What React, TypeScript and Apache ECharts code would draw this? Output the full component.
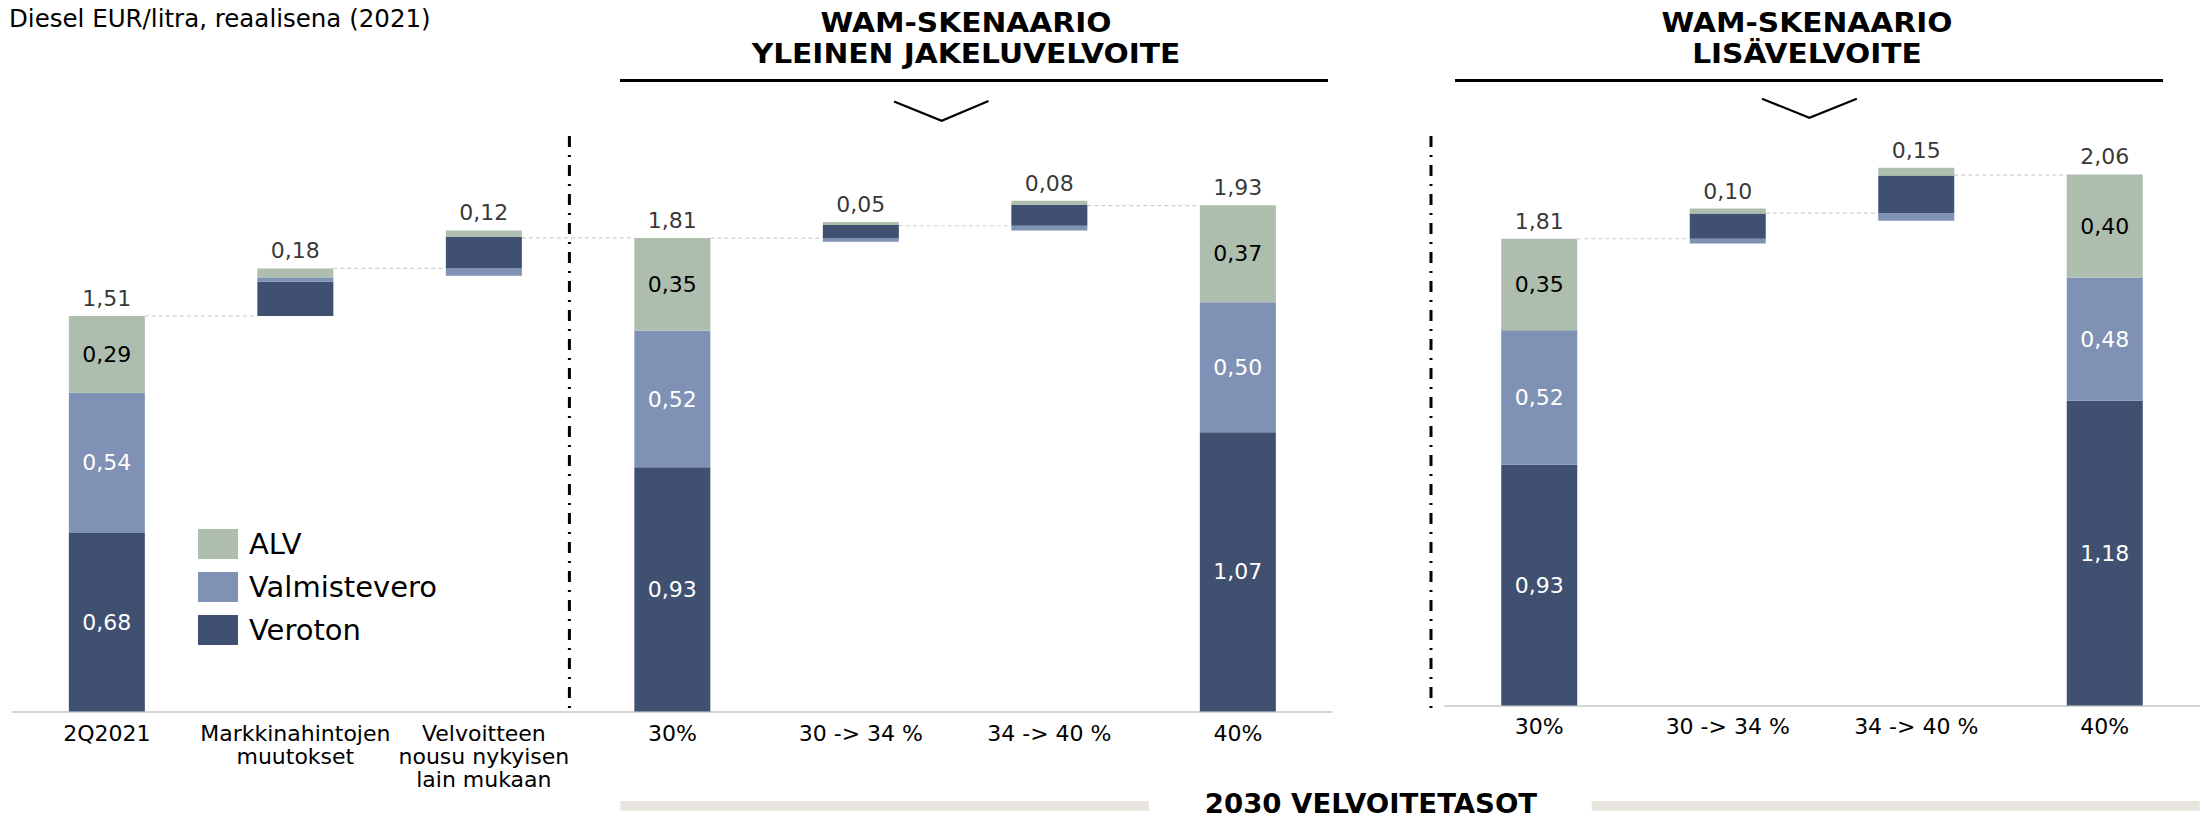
import React, { useEffect, useRef } from "react";
import * as echarts from "echarts";

// ---------- data ----------
const CATS_A = [
  "2Q2021",
  "Markkinahintojen\nmuutokset",
  "Velvoitteen\nnousu nykyisen\nlain mukaan",
  "30%",
  "30 -> 34 %",
  "34 -> 40 %",
  "40%",
];
const IS_TOTAL_A = [true, false, false, true, false, false, true];
const VEROTON_A = [0.681, 0.13, 0.12, 0.932, 0.05, 0.079, 1.066];
const VALM_A = [0.536, 0.015, -0.028, 0.521, -0.014, -0.018, 0.496];
const ALV_A = [0.293, 0.036, 0.025, 0.354, 0.011, 0.016, 0.37];

const CATS_B = ["30%", "30 -> 34 %", "34 -> 40 %", "40%"];
const IS_TOTAL_B = [true, false, false, true];
const VEROTON_B = [0.932, 0.098, 0.146, 1.18];
const VALM_B = [0.521, -0.018, -0.029, 0.476];
const ALV_B = [0.354, 0.019, 0.03, 0.4];

const LEGEND_NAMES = ["ALV", "Valmistevero", "Veroton"];
const TITLE = "Diesel EUR/litra, reaalisena (2021)";
const HEADER_A = ["WAM-SKENAARIO", "YLEINEN JAKELUVELVOITE"];
const HEADER_B = ["WAM-SKENAARIO", "LISÄVELVOITE"];
const FOOTER = "2030 VELVOITETASOT";

// ---------- styles ----------
const FONT = "'DejaVu Sans', Verdana, sans-serif";
const C_ALV = "#adbeae";
const C_VALM = "#7f91b4";
const C_VER = "#3f5070";
const BAR_W = 76;

const fmt = (v: number) => v.toFixed(2).replace(".", ",");

function build(veroton: number[], valm: number[], alv: number[], isTotal: boolean[]) {
  const base: number[] = [];
  const valmNeg: number[] = [];
  const valmPos: number[] = [];
  const tops: number[] = [];
  const nets: number[] = [];
  const levels: number[] = [];
  let level = 0;
  for (let i = 0; i < veroton.length; i++) {
    const net = veroton[i] + valm[i] + alv[i];
    const neg = Math.min(valm[i], 0);
    const start = isTotal[i] ? 0 : level;
    const b = start + neg;
    base.push(b);
    valmNeg.push(-neg);
    valmPos.push(Math.max(valm[i], 0));
    tops.push(b - neg + veroton[i] + Math.max(valm[i], 0) + alv[i]);
    nets.push(net);
    level = isTotal[i] ? net : level + net;
    levels.push(level);
  }
  return { base, valmNeg, valmPos, tops, nets, levels };
}

function seriesFor(
  g: number,
  veroton: number[],
  valm: number[],
  alv: number[],
  isTotal: boolean[]
) {
  const d = build(veroton, valm, alv, isTotal);
  const common = {
    type: "bar",
    stack: "s" + g,
    xAxisIndex: g,
    yAxisIndex: g,
    barWidth: BAR_W,
  };
  const segLabel = (color: string) => ({
    position: "inside",
    fontSize: 22,
    fontFamily: FONT,
    color,
    formatter: (p: any) => fmt(p.value),
  });
  const withLabel = (arr: number[]) =>
    arr.map((v, i) => ({ value: v, label: { show: isTotal[i] } }));
  const connectors = d.levels.slice(0, -1).map((lv, i) => [i, lv]);
  return [
    {
      ...common,
      name: "_base",
      silent: true,
      itemStyle: { color: "rgba(0,0,0,0)" },
      data: d.base,
    },
    {
      ...common,
      name: "Valmistevero",
      itemStyle: { color: C_VALM },
      data: d.valmNeg,
    },
    {
      ...common,
      name: "Veroton",
      itemStyle: { color: C_VER },
      label: segLabel("#ffffff"),
      data: withLabel(veroton),
    },
    {
      ...common,
      name: "Valmistevero",
      itemStyle: { color: C_VALM },
      label: segLabel("#ffffff"),
      data: withLabel(d.valmPos),
    },
    {
      ...common,
      name: "ALV",
      itemStyle: { color: C_ALV },
      label: segLabel("#000000"),
      data: withLabel(alv),
    },
    {
      type: "scatter",
      name: "_top",
      xAxisIndex: g,
      yAxisIndex: g,
      symbol: "rect",
      symbolSize: 1,
      itemStyle: { color: "rgba(0,0,0,0)" },
      silent: true,
      label: {
        show: true,
        position: "top",
        distance: 6,
        fontSize: 22,
        fontFamily: FONT,
        color: "#000000",
        formatter: (p: any) => fmt(p.value[2]),
      },
      data: d.tops.map((t, i) => [i, t, d.nets[i]]),
    },
    {
      type: "custom",
      name: "_conn",
      xAxisIndex: g,
      yAxisIndex: g,
      silent: true,
      renderItem: (params: any, api: any) => {
        const i = api.value(0);
        const lv = api.value(1);
        const a = api.coord([i, lv]);
        const b = api.coord([i + 1, lv]);
        return {
          type: "line",
          shape: { x1: a[0] + BAR_W / 2, y1: a[1], x2: b[0] - BAR_W / 2, y2: b[1] },
          style: { stroke: "#cfcfcf", lineWidth: 1.2, lineDash: [4, 3] },
        };
      },
      data: connectors,
    },
  ];
}

function xAxis(g: number, data: string[], margin: number) {
  return {
    type: "category",
    gridIndex: g,
    data,
    axisLine: { lineStyle: { color: "#d6d6d6", width: 2 } },
    axisTick: { show: false },
    axisLabel: {
      interval: 0,
      margin,
      fontSize: 22,
      lineHeight: 23,
      fontFamily: FONT,
      color: "#000000",
    },
  };
}

function headerTexts(cx: number, lines: string[]) {
  return lines.map((t, i) => ({
    type: "text",
    x: cx,
    y: i === 0 ? 22.5 : 53.5,
    scaleX: 1.1,
    style: {
      text: t,
      font: `bold 27px ${FONT}`,
      lineHeight: 30,
      fill: "#000",
      textAlign: "center",
      textVerticalAlign: "middle",
    },
  }));
}

export default function App() {
  const ref = useRef<HTMLDivElement>(null);
  useEffect(() => {
    if (!ref.current) return;
    const chart = echarts.init(ref.current, null, { renderer: "svg" });
    const option: any = {
      animation: false,
      backgroundColor: "#ffffff",
      textStyle: { fontFamily: FONT },
      grid: [
        { left: 12.6, top: 56.5, width: 1319.5, height: 655 },
        { left: 1445, top: 59.75, width: 754, height: 645.75 },
      ],
      xAxis: [xAxis(0, CATS_A, 10), xAxis(1, CATS_B, 9)],
      yAxis: [
        { type: "value", gridIndex: 0, min: 0, max: 2.5, show: false },
        { type: "value", gridIndex: 1, min: 0, max: 2.5, show: false },
      ],
      legend: {
        data: LEGEND_NAMES,
        orient: "vertical",
        left: 198,
        top: 529,
        padding: 0,
        itemWidth: 40,
        itemHeight: 30,
        itemGap: 13,
        icon: "rect",
        textStyle: { fontSize: 29, color: "#000", fontFamily: FONT, padding: [0, 0, 0, 6] },
      },
      series: [
        ...seriesFor(0, VEROTON_A, VALM_A, ALV_A, IS_TOTAL_A),
        ...seriesFor(1, VEROTON_B, VALM_B, ALV_B, IS_TOTAL_B),
      ],
      graphic: [
        {
          type: "text",
          x: 9,
          y: 18,
          style: {
            text: TITLE,
            font: `24.5px ${FONT}`,
            lineHeight: 28,
            fill: "#000",
            textVerticalAlign: "middle",
          },
        },
        ...headerTexts(966, HEADER_A),
        ...headerTexts(1807, HEADER_B),
        {
          type: "line",
          shape: { x1: 620, y1: 80.5, x2: 1328, y2: 80.5 },
          style: { stroke: "#000", lineWidth: 3 },
        },
        {
          type: "line",
          shape: { x1: 1455, y1: 80.5, x2: 2163, y2: 80.5 },
          style: { stroke: "#000", lineWidth: 3 },
        },
        {
          type: "polyline",
          shape: { points: [[894, 101.5], [941.7, 120.8], [988.5, 101]] },
          style: { stroke: "#000", lineWidth: 2.2, fill: "none" },
        },
        {
          type: "polyline",
          shape: { points: [[1762, 98.7], [1809.4, 117.8], [1856.8, 98.7]] },
          style: { stroke: "#000", lineWidth: 2.2, fill: "none" },
        },
        {
          type: "line",
          shape: { x1: 569.4, y1: 136, x2: 569.4, y2: 716 },
          style: { stroke: "#000", lineWidth: 3, lineDash: [11, 8, 2, 8] },
        },
        {
          type: "line",
          shape: { x1: 1431, y1: 136, x2: 1431, y2: 716 },
          style: { stroke: "#000", lineWidth: 3, lineDash: [11, 8, 2, 8] },
        },
        {
          type: "rect",
          shape: { x: 620.5, y: 801, width: 528.5, height: 9.7 },
          style: { fill: "#e8e5df" },
        },
        {
          type: "rect",
          shape: { x: 1591.7, y: 801, width: 608, height: 9.7 },
          style: { fill: "#e8e5df" },
        },
        {
          type: "text",
          x: 1371,
          y: 804,
          scaleX: 1.06,
          style: {
            text: FOOTER,
            font: `bold 26px ${FONT}`,
            lineHeight: 22,
            fill: "#000",
            textAlign: "center",
            textVerticalAlign: "middle",
          },
        },
      ],
    };
    chart.setOption(option);
    return () => chart.dispose();
  }, []);
  return (
    <div
      ref={ref}
      style={{ position: "absolute", left: 0, top: 0, width: 2206, height: 819 }}
    />
  );
}
